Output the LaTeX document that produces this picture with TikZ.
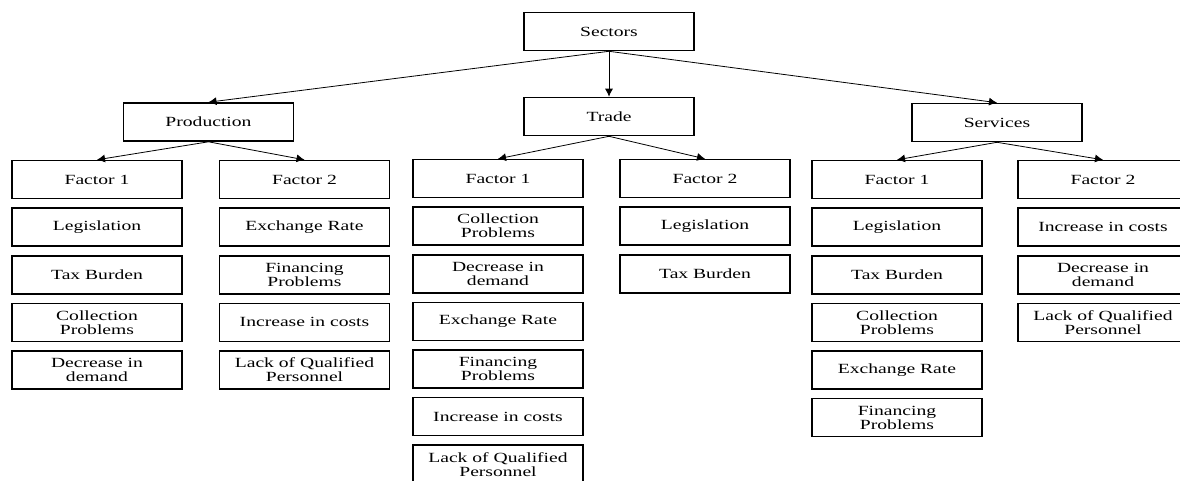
\documentclass[tikz,border=0pt]{standalone}
\usepackage{fontspec}
\setmainfont{Liberation Serif}[FakeStretch=1.4]
\usetikzlibrary{arrows.meta}

\tikzset{
	box/.style = {draw, line width = 1.2pt, minimum width = 127.5pt, minimum height = 28.5pt, inner sep = 0pt, align = center, font = \fontsize{10.5}{10.5}\selectfont},
	link/.style = {-{Latex[length = 6pt, width = 6pt]}, line width = 0.6pt}
}

\begin{document}
\begin{tikzpicture}[x = 0.75pt, y = -0.75pt]
					\useasboundingbox (0, 0) rectangle (1180, 481);
					\clip (0, 0) rectangle (1180, 481);
					\node[box] (sec) at (609, 31.5) {Sectors};
					\node[box] (prod) at (208.5, 122) {Production};
					\node[box] (trade) at (609, 116.5) {Trade};
					\node[box] (serv) at (997, 122.5) {Services};
					\foreach \txt [count = \i] in {Factor 1, Legislation, Tax Burden, Collection\\Problems, Decrease in\\demand}
						\node[box] (A\i) at (97, {132 + 47.6 * \i}) {\txt};
					\foreach \txt [count = \i] in {Factor 2, Exchange Rate, Financing\\Problems, Increase in costs, Lack of Qualified\\Personnel}
						\node[box] (B\i) at (304.5, {132 + 47.6 * \i}) {\txt};
					\foreach \txt [count = \i] in {Factor 1, Collection\\Problems, Decrease in\\demand, Exchange Rate, Financing\\Problems, Increase in costs, Lack of Qualified\\Personnel}
						\node[box] (C\i) at (498, {131 + 47.6 * \i}) {\txt};
					\foreach \txt [count = \i] in {Factor 2, Legislation, Tax Burden}
						\node[box] (D\i) at (705, {131 + 47.6 * \i}) {\txt};
					\foreach \txt [count = \i] in {Factor 1, Legislation, Tax Burden, Collection\\Problems, Exchange Rate, Financing\\Problems}
						\node[box] (E\i) at (897, {132 + 47.6 * \i}) {\txt};
					\foreach \txt [count = \i] in {Factor 2, Increase in costs, Decrease in\\demand, Lack of Qualified\\Personnel}
						\node[box] (F\i) at (1103, {132 + 47.6 * \i}) {\txt};
					\draw[link] (sec.south) -- (prod.north);
					\draw[link] (sec.south) -- (trade.north);
					\draw[link] (sec.south) -- (serv.north);
					\draw[link] (prod.south) -- (A1.north);
					\draw[link] (prod.south) -- (B1.north);
					\draw[link] (trade.south) -- (C1.north);
					\draw[link] (trade.south) -- (D1.north);
					\draw[link] (serv.south) -- (E1.north);
					\draw[link] (serv.south) -- (F1.north);
				\end{tikzpicture}
\end{document}
